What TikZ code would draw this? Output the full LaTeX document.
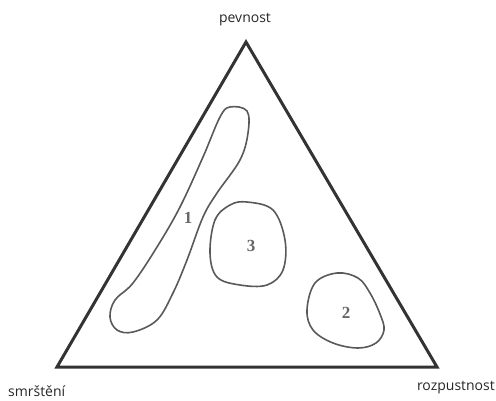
\documentclass[tikz,border=0pt]{standalone}
\usepackage{fontspec}
\setmainfont{Open Sans}
\newfontfamily\cislafont{Liberation Serif}
\usepackage{tikz}
\usetikzlibrary{positioning, calc}

\tikzset{
  oblast/.style={draw=black!65, line width=1.6pt, smooth cycle, tension=0.6},
  popis/.style={font=\fontsize{14}{16}\selectfont, text=black!85, inner sep=1pt},
  cislo/.style={font=\cislafont\fontsize{17}{19}\selectfont\bfseries, text=black!60, inner sep=1pt}
}

\begin{document}
\begin{tikzpicture}[x=1pt, y=-1pt]
    \useasboundingbox (0,0) rectangle (496,400);
    % vrcholy trojuhelniku
    \coordinate (horni) at (246,42);
    \coordinate (levy) at (57,367);
    \coordinate (pravy) at (437,367);
    \draw[line width=3pt, draw=black!80, line join=miter] (horni) -- (levy) -- (pravy) -- cycle;

    % popisy vrcholu
    \node[popis] (pevnost) at (245,20) {pevnost};
    \node[popis, anchor=west] (smrsteni) at (7,391) {smrštění};
    \node[popis, anchor=east] (rozpustnost) at (496,388) {rozpustnost};

    % oblasti
    \draw[oblast] plot coordinates {(230,107) (247,111) (248,133) (240,160) (217,193)
      (203,217) (187,260) (173,293) (157,320) (133,332) (117,330) (110,317)
      (115,300) (133,283) (157,247) (180,207) (203,157) (220,117)};
    \draw[oblast] plot coordinates {(247,202) (273,210) (285,240) (283,270) (267,285)
      (240,285) (217,277) (210,253) (215,220) (230,205)};
    \draw[oblast] plot coordinates {(337,273) (358,278) (370,293) (380,314) (384,330)
      (376,343) (358,348) (333,343) (313,330) (307,310) (315,283)};

    \node[cislo] (c1) at (188,218) {1};
    \node[cislo] (c3) at (251,246) {3};
    \node[cislo] (c2) at (346,313) {2};
  \end{tikzpicture}
\end{document}
